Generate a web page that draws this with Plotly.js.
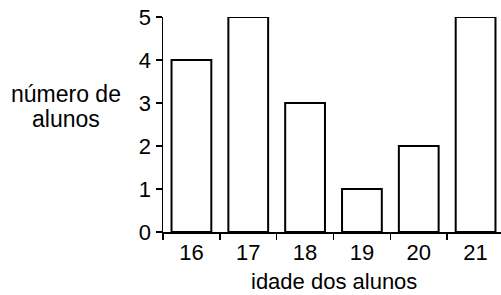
<!DOCTYPE html>
<html>
<head>
<meta charset="utf-8">
<script src="https://cdn.plot.ly/plotly-3.0.1.min.js"></script>
<style>
html,body{margin:0;padding:0;overflow:hidden;background:#fff;}
#chart{width:506px;height:295px;}
</style>
</head>
<body>
<div id="chart"></div>
<script>
const ages = ["16", "17", "18", "19", "20", "21"];
const students = [4, 5, 3, 1, 2, 5];
const yTicks = [0, 1, 2, 3, 4, 5];
const xTitle = "idade dos alunos";
const yTitleLines = ["número de", "alunos"];

const FONT = "Liberation Sans, Arial, Helvetica, sans-serif";

const trace = {
  type: "bar",
  x: ages,
  y: students,
  width: 0.7,
  marker: {color: "#ffffff", line: {color: "#000000", width: 2}},
  hoverinfo: "skip"
};

const layout = {
  width: 506,
  height: 295,
  margin: {l: 163, r: 2, t: 17, b: 63, pad: 0},
  paper_bgcolor: "#ffffff",
  plot_bgcolor: "#ffffff",
  showlegend: false,
  font: {family: FONT, color: "#000000", size: 22},
  xaxis: {
    type: "category",
    range: [-0.5, 5.5],
    tickson: "boundaries",
    ticks: "outside",
    ticklen: 6,
    tickwidth: 1.5,
    tickcolor: "#000",
    showline: true,
    linecolor: "#000",
    linewidth: 1.5,
    showgrid: false,
    zeroline: false,
    tickfont: {family: FONT, size: 22, color: "#000"},
    fixedrange: true
  },
  yaxis: {
    range: [0, 5],
    tickvals: yTicks,
    ticks: "outside",
    ticklen: 6,
    tickwidth: 1.5,
    tickcolor: "#000",
    showline: true,
    linecolor: "#000",
    linewidth: 1.5,
    showgrid: false,
    zeroline: false,
    tickfont: {family: FONT, size: 22, color: "#000"},
    fixedrange: true
  },
  annotations: [
    {text: xTitle, xref: "paper", yref: "paper", x: 0.5, y: -0.232,
     xanchor: "center", yanchor: "middle", showarrow: false,
     font: {family: FONT, size: 22, color: "#000"}},
    {text: yTitleLines[0], xref: "paper", yref: "paper", x: -0.2845, y: 0.64,
     xanchor: "center", yanchor: "middle", showarrow: false,
     font: {family: FONT, size: 23, color: "#000"}},
    {text: yTitleLines[1], xref: "paper", yref: "paper", x: -0.2845, y: 0.526,
     xanchor: "center", yanchor: "middle", showarrow: false,
     font: {family: FONT, size: 23, color: "#000"}}
  ]
};

Plotly.newPlot("chart", [trace], layout, {displayModeBar: false, staticPlot: true});
</script>
</body>
</html>
